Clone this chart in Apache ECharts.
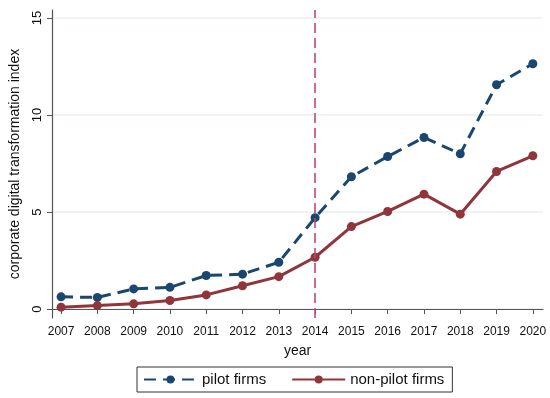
<!DOCTYPE html>
<html><head><meta charset="utf-8">
<script src="https://cdn.jsdelivr.net/npm/echarts@6/dist/echarts.min.js"></script>
<style>html,body{margin:0;padding:0;background:#fff}#c{width:550px;height:398px}</style>
</head><body><div id="c"></div>
<script>
const years = [2007,2008,2009,2010,2011,2012,2013,2014,2015,2016,2017,2018,2019,2020];
const pilot = [0.63,0.60,1.04,1.12,1.73,1.80,2.41,4.71,6.82,7.86,8.84,8.00,11.56,12.64];
const nonPilot = [0.10,0.18,0.27,0.44,0.73,1.20,1.67,2.67,4.25,5.03,5.92,4.89,7.09,7.90];
const yTicks = [0,5,10,15];
const policyYear = 2014;
const font = 'Liberation Sans, Arial, sans-serif';
const chart = echarts.init(document.getElementById('c'));
chart.setOption({
  animation:false,
  backgroundColor:'#fff',
  grid:{left:44,right:7,top:10,bottom:80},
  xAxis:{type:'value',min:2006.75,max:2020.28,
    name:'year',nameLocation:'middle',nameGap:26,
    nameTextStyle:{fontFamily:font,fontSize:14,color:'#111'},
    axisLine:{show:true,lineStyle:{color:'#555',width:1.2}},
    axisTick:{show:true,length:5,lineStyle:{color:'#555'},customValues:years},
    axisLabel:{customValues:years,formatter:v=>String(v),fontFamily:font,fontSize:12,color:'#111',margin:8},
    splitLine:{show:false}},
  yAxis:{type:'value',min:-0.46,max:15.41,
    name:'corporate digital transformation index',nameLocation:'middle',nameGap:30,
    nameTextStyle:{fontFamily:font,fontSize:14,color:'#111'},
    axisLine:{show:true,lineStyle:{color:'#555',width:1.2}},
    axisTick:{show:true,length:5,lineStyle:{color:'#555'},customValues:yTicks},
    axisLabel:{customValues:yTicks,rotate:90,fontFamily:font,fontSize:13,color:'#111',margin:8},
    splitLine:{show:false}},
  legend:{left:137,top:367,width:313,itemWidth:53,itemHeight:10,itemGap:25,
    borderColor:'#333',borderWidth:1,padding:[5,8,5,6],
    textStyle:{fontFamily:font,fontSize:15,color:'#111'},
    data:['pilot firms','non-pilot firms']},
  series:[
    {name:'pilot firms',type:'line',data:years.map((y,i)=>[y,pilot[i]]),
      symbol:'circle',symbolSize:9,color:'#1a476f',
      lineStyle:{width:3,type:[12,7],color:'#1a476f'},itemStyle:{color:'#1a476f'},
      markLine:{silent:true,symbol:'none',label:{show:false},
        lineStyle:{color:'#c2486e',width:1.6,type:[10,5]},
        data:[{xAxis:policyYear}]}},
    {name:'non-pilot firms',type:'line',data:years.map((y,i)=>[y,nonPilot[i]]),
      symbol:'circle',symbolSize:9,color:'#90353b',
      lineStyle:{width:3,color:'#90353b'},itemStyle:{color:'#90353b'},
      markLine:{silent:true,symbol:'none',label:{show:false},
        lineStyle:{color:'#e8eff0',width:1.5,type:'solid'},z:0,
        data:yTicks.map(v=>({yAxis:v}))}}
  ]
});
</script></body></html>
